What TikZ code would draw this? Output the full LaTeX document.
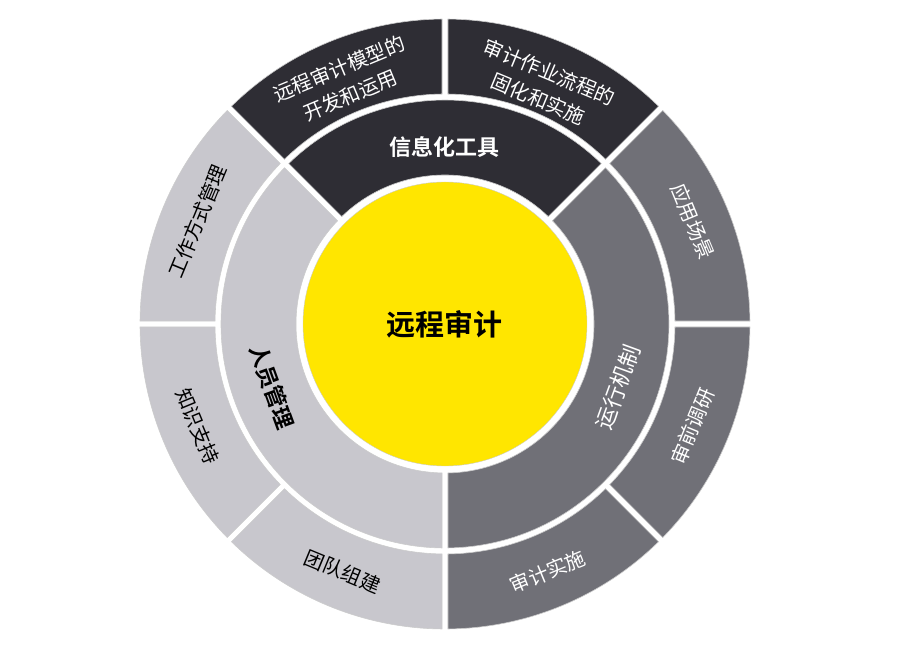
\documentclass[tikz,border=0pt]{standalone}
\usepackage{fontspec}
\newfontfamily\cjk{Noto Sans CJK SC}[BoldFont={Noto Sans CJK SC Bold}]
\usetikzlibrary{positioning}

\definecolor{coreyellow}{HTML}{FFE600}
\definecolor{darkpart}{HTML}{2E2D34}
\definecolor{midpart}{HTML}{707077}
\definecolor{lightpart}{HTML}{C8C7CD}

\tikzset{
  part/.style={draw=gray!40, line width=0.6pt},
  ringtext/.style={font=\cjk\fontsize{20}{29}\selectfont, align=center, inner sep=1pt},
  innertext/.style={font=\cjk\fontsize{22}{26}\selectfont},
}

% ring part: inner radius, outer radius, start angle, end angle, colour
\newcommand{\ringpart}[5]{%
  \pgfmathsetmacro{\partrin}{#1+3}
  \pgfmathsetmacro{\partrout}{#2-3}
  \pgfmathsetmacro{\partgin}{asin(3/\partrin)}
  \pgfmathsetmacro{\partgout}{asin(3/\partrout)}
  \draw[part, fill=#5]
    ({#3+\partgin}:\partrin pt) -- ({#3+\partgout}:\partrout pt)
    arc[start angle={#3+\partgout}, end angle={#4-\partgout}, radius=\partrout pt]
    -- ({#4-\partgin}:\partrin pt)
    arc[start angle={#4-\partgin}, end angle={#3+\partgin}, radius=\partrin pt]
    -- cycle;
}

\begin{document}
\begin{tikzpicture}
    \useasboundingbox (-445pt,-323pt) rectangle (462pt,324pt);
    % middle ring
    \ringpart{146}{227}{45}{135}{darkpart}
    \ringpart{146}{227}{135}{270}{lightpart}
    \ringpart{146}{227}{-90}{45}{midpart}
    % outer ring
    \foreach \from/\to/\col in {45/90/darkpart, 90/135/darkpart,
        135/180/lightpart, 180/225/lightpart, 225/270/lightpart,
        -90/-45/midpart, -45/0/midpart, 0/45/midpart}
        \ringpart{227}{308}{\from}{\to}{\col};

    \node[circle, fill=coreyellow, draw=gray!40, minimum size=284pt,
        font=\cjk\bfseries\fontsize{29}{34}\selectfont] (core) at (0,0) {远程审计};

    \node[innertext, white, font=\cjk\bfseries\fontsize{22}{26}\selectfont]
        (tool) at (90:177pt) {信息化工具};
    \node[innertext, black, font=\cjk\bfseries\fontsize{22}{26}\selectfont, rotate=-70]
        (staff) at (200:184pt) {人员管理};
    \node[innertext, white, rotate=70] (mech) at (-20:184pt) {运行机制};

    \node[ringtext, white, rotate=22.5] (model) at (112.5:262pt) {远程审计模型的\\开发和运用};
    \node[ringtext, white, rotate=-22.5] (flow) at (67.5:258pt) {审计作业流程的\\固化和实施};
    \node[ringtext, black, rotate=67.5] (work) at (157.5:268pt) {工作方式管理};
    \node[ringtext, black, rotate=-67.5] (know) at (202.5:268pt) {知识支持};
    \node[ringtext, black, rotate=-22.5] (team) at (247.5:268pt) {团队组建};
    \node[ringtext, white, rotate=22.5] (exec) at (-67.5:268pt) {审计实施};
    \node[ringtext, white, rotate=67.5] (survey) at (-22.5:268pt) {审前调研};
    \node[ringtext, white, rotate=-67.5] (scene) at (22.5:268pt) {应用场景};
\end{tikzpicture}
\end{document}
